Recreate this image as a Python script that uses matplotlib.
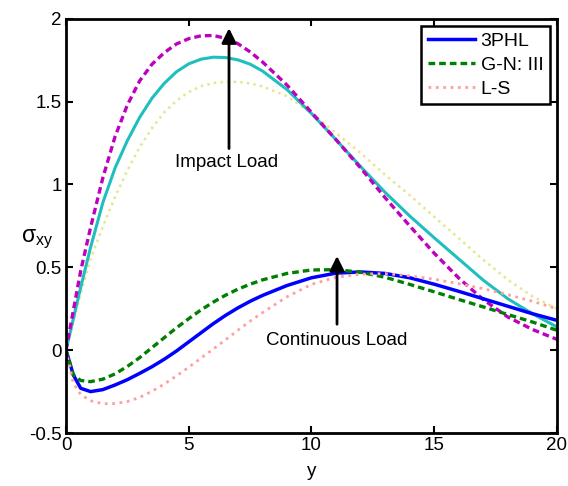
import matplotlib
matplotlib.use("Agg")
import matplotlib.pyplot as plt

plt.rcParams['font.family'] = ['Liberation Sans', 'DejaVu Sans']
plt.rcParams['axes.unicode_minus'] = False
plt.rcParams['mathtext.fontset'] = 'custom'
plt.rcParams['mathtext.rm'] = 'Liberation Sans'
plt.rcParams['mathtext.it'] = 'Liberation Sans'

# valores
y = [0, 0.3, 0.6, 1.0, 1.5, 2.0, 2.5, 3.0, 3.5, 4.0, 4.5, 5.0, 5.5, 6.0, 6.5,
     7.0, 7.5, 8, 9, 10, 11, 12, 13, 14, 15, 16, 17, 18, 19, 20]

# carga continua
phl_cont = [0, -0.15, -0.23, -0.25, -0.238, -0.21, -0.178, -0.14, -0.10, -0.055,
            -0.005, 0.05, 0.105, 0.16, 0.21, 0.255, 0.295, 0.33, 0.39, 0.437,
            0.465, 0.472, 0.463, 0.437, 0.398, 0.355, 0.31, 0.265, 0.22, 0.18]
gn_cont = [0, -0.15, -0.183, -0.19, -0.175, -0.143, -0.098, -0.045, 0.015, 0.075,
           0.135, 0.19, 0.243, 0.29, 0.332, 0.368, 0.398, 0.424, 0.463, 0.484,
           0.486, 0.47, 0.44, 0.397, 0.352, 0.306, 0.261, 0.215, 0.17, 0.12]
ls_cont = [0, -0.20, -0.268, -0.305, -0.323, -0.322, -0.31, -0.285, -0.248, -0.205,
           -0.155, -0.103, -0.048, 0.007, 0.063, 0.12, 0.175, 0.226, 0.322, 0.397,
           0.44, 0.459, 0.462, 0.449, 0.428, 0.401, 0.371, 0.335, 0.295, 0.25]

# carga de impacto
phl_imp = [0, 0.19, 0.38, 0.62, 0.89, 1.10, 1.265, 1.405, 1.52, 1.61,
           1.68, 1.728, 1.756, 1.768, 1.766, 1.752, 1.726, 1.685, 1.573, 1.428,
           1.27, 1.108, 0.952, 0.81, 0.678, 0.55, 0.422, 0.31, 0.22, 0.14]
gn_imp = [0, 0.24, 0.48, 0.74, 1.04, 1.29, 1.48, 1.625, 1.725, 1.795,
          1.848, 1.88, 1.897, 1.899, 1.882, 1.85, 1.80, 1.74, 1.60, 1.435,
          1.27, 1.10, 0.92, 0.75, 0.585, 0.435, 0.305, 0.20, 0.125, 0.065]
ls_imp = [0, 0.17, 0.34, 0.55, 0.745, 0.925, 1.085, 1.225, 1.34, 1.435,
          1.505, 1.558, 1.593, 1.612, 1.62, 1.619, 1.61, 1.592, 1.533, 1.43,
          1.31, 1.19, 1.058, 0.935, 0.805, 0.675, 0.545, 0.425, 0.325, 0.25]

fig = plt.figure(figsize=(5.68, 4.86), dpi=100)
ax = fig.add_axes([0.1162, 0.109, 0.8644, 0.8524])

ax.plot(y, ls_imp, color='#e6e68c', linestyle=':', linewidth=1.8)
ax.plot(y, phl_imp, color='#1fbfbf', linestyle='-', linewidth=2.2)
ax.plot(y, gn_imp, color='#bf00bf', linestyle=(0, (2, 1.2)), linewidth=2.4)

ax.plot(y, phl_cont, color='#0000ff', linestyle='-', linewidth=2.5, label='3PHL')
ax.plot(y, gn_cont, color='#008000', linestyle=(0, (2, 1.2)), linewidth=2.4, label='G-N: III')
ax.plot(y, ls_cont, color='#ffa0a0', linestyle=':', linewidth=2.0, label='L-S')

ax.annotate('', xy=(6.64, 1.96), xytext=(6.64, 1.2),
            arrowprops=dict(arrowstyle='-|>', color='k', lw=2, mutation_scale=22))
ax.text(6.56, 1.13, 'Impact Load', ha='center', va='center', fontsize=13.5)
ax.annotate('', xy=(11.04, 0.585), xytext=(11.04, 0.14),
            arrowprops=dict(arrowstyle='-|>', color='k', lw=2, mutation_scale=22))
ax.text(11.04, 0.06, 'Continuous Load', ha='center', va='center', fontsize=13.5)

ax.set_xlim(0, 20)
ax.set_ylim(-0.5, 2)
ax.set_xticks([0, 5, 10, 15, 20])
ax.set_yticks([-0.5, 0, 0.5, 1, 1.5, 2])
ax.set_yticklabels(['-0.5', '0', '0.5', '1', '1.5', '2'])
ax.tick_params(direction='in', length=5, width=1.5, top=True, right=True,
               labelsize=13.5, pad=3)
for s in ax.spines.values():
    s.set_linewidth(2)

ax.set_xlabel('y', fontsize=13.5, labelpad=6)
ax.set_ylabel(r'$\sigma_{\mathrm{xy}}$', fontsize=16.5, rotation=0, labelpad=0)
ax.yaxis.set_label_coords(-0.06, 0.44)

leg = ax.legend(loc='upper right', fontsize=14, handlelength=2.4,
                handletextpad=0.3, labelspacing=0.32, borderpad=0.35,
                borderaxespad=0.35, fancybox=False, framealpha=1)
leg.get_frame().set_edgecolor('k')
leg.get_frame().set_linewidth(1.8)

fig.savefig('out.png', dpi=100)
